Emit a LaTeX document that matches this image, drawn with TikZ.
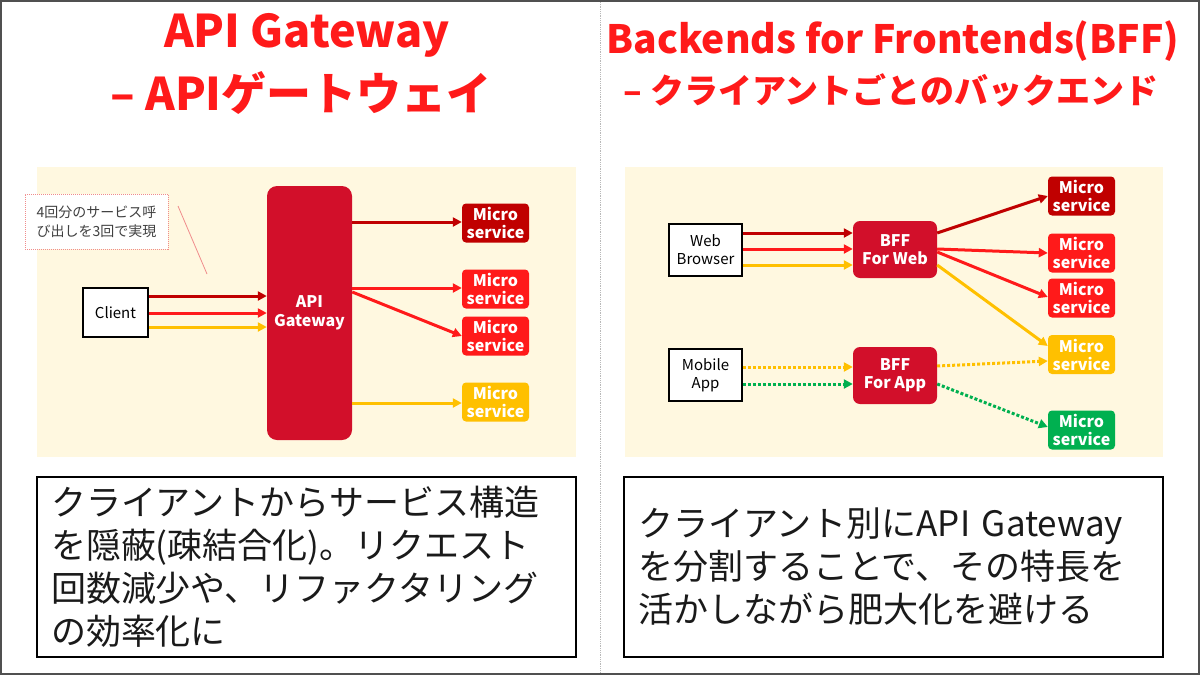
\documentclass[tikz,border=0pt]{standalone}
\usepackage{fontspec}
\setmainfont{Noto Sans CJK JP}
\usetikzlibrary{arrows.meta}
\definecolor{dred}{HTML}{C00000}
\definecolor{bred}{HTML}{FF1A1A}
\definecolor{gwred}{HTML}{D20F2A}
\definecolor{yel}{HTML}{FFC000}
\definecolor{grn}{HTML}{00B050}
\definecolor{beige}{HTML}{FFF8E0}
\definecolor{titlered}{HTML}{FF1A1A}
\definecolor{framec}{HTML}{505050}
\definecolor{txtc}{HTML}{1A1A1A}
\definecolor{callc}{HTML}{F08C8C}
\begin{document}
\begin{tikzpicture}[x=1pt,y=-1pt,
  titlea/.style={anchor=base, text=titlered, inner sep=0pt, font={\bfseries\fontsize{45}{50}\selectfont}},
  titleb/.style={anchor=base, text=titlered, inner sep=0pt, font={\bfseries\fontsize{45}{50}\selectfont}},
  titlec/.style={anchor=base, text=titlered, inner sep=0pt, font={\bfseries\fontsize{39}{44}\selectfont}},
  titled/.style={anchor=base, text=titlered, inner sep=0pt, font={\bfseries\fontsize{34}{40}\selectfont}},
  msbox/.style={rounded corners=4pt, minimum width=67pt, minimum height=39pt, inner sep=0pt, text=white, align=center, font={\bfseries\fontsize{16}{18}\selectfont}},
  bffbox/.style={fill=gwred, rounded corners=7pt, minimum width=84pt, minimum height=57pt, inner sep=0pt, text=white, align=center, font={\bfseries\fontsize{16}{18}\selectfont}},
  clientbox/.style={draw=black, line width=1.5pt, fill=white, inner sep=0pt, align=center, font={\fontsize{15}{18}\selectfont}},
  txtbox/.style={draw=black, line width=1.5pt, fill=white, minimum width=539pt, minimum height=180pt, text width=511pt, inner xsep=14pt, align=left, text=txtc, font={\fontsize{35}{43}\selectfont}},
  arr/.style={line width=3pt, -{Triangle[length=9pt,width=9pt]}},
  dotarr/.style={arr, dash pattern=on 3pt off 2pt}
]
\useasboundingbox (0,0) rectangle (1200,675);
\fill[white] (0,0) rectangle (1200,675);
\draw[framec, line width=2pt] (1,1) rectangle (1199,674);
\draw[gray!55, line width=0.8pt, densely dotted] (600,2) -- (600,673);

% titles
\node[titlea] (t1) at (307,47) {API Gateway};
\node[titleb] (t2) at (301,110) {– APIゲートウェイ};
\node[titlec] (t3) at (893,53) {Backends for Frontends(BFF)};
\node[titled] (t4) at (891,103) {– クライアントごとのバックエンド};

% backgrounds
\fill[beige] (37,167) rectangle (576,457);
\fill[beige] (625,167) rectangle (1163,457);

% ---------- left: API Gateway ----------
\node[draw=callc, densely dotted, line width=1pt, fill=white, minimum width=143pt, minimum height=55pt, inner sep=0pt, align=left, text=black!75, font={\fontsize{14}{19}\selectfont}] (call) at (96.5,221.5) {4回分のサービス呼\\び出しを3回で実現};
\coordinate (cl1) at (178,206);
\coordinate (cl2) at (207,274);
\draw[callc, line width=0.8pt] (cl1) -- (cl2);

\node[clientbox, minimum width=65pt, minimum height=49pt] (client) at (115.5,312.5) {Client};
\node[fill=gwred, rounded corners=10pt, minimum width=85pt, minimum height=254pt, inner sep=0pt, text=white, align=center, font={\bfseries\fontsize{16}{19}\selectfont}] (gw) at (309.5,313) {API\\Gateway};

\node[msbox, fill=dred] (lms1) at (495.5,223) {Micro\\service};
\node[msbox, fill=bred] (lms2) at (495.5,289) {Micro\\service};
\node[msbox, fill=bred] (lms3) at (495.5,336) {Micro\\service};
\node[msbox, fill=yel] (lms4) at (495.5,402) {Micro\\service};

\draw[arr, dred] (client.east |- 0,296) -- (gw.west |- 0,296);
\draw[arr, bred] (client.east |- 0,313) -- (gw.west |- 0,313);
\draw[arr, yel] (client.east |- 0,327) -- (gw.west |- 0,327);

\draw[arr, dred] (gw.east |- 0,222) -- (lms1.west |- 0,222);
\draw[arr, bred] (gw.east |- 0,288) -- (lms2.west |- 0,288);
\draw[arr, bred] (gw.east |- 0,292) -- (lms3.west |- 0,336);
\draw[arr, yel] (gw.east |- 0,403) -- (lms4.west |- 0,403);

% ---------- right: BFF ----------
\node[clientbox, minimum width=73pt, minimum height=52pt] (web) at (705.5,250) {Web\\Browser};
\node[clientbox, minimum width=73pt, minimum height=52pt] (mob) at (705.5,375) {Mobile\\App};
\node[bffbox] (bffw) at (895,249.5) {BFF\\For Web};
\node[bffbox] (bffa) at (895,375.5) {BFF\\For App};

\node[msbox, fill=dred] (rms1) at (1081.5,196) {Micro\\service};
\node[msbox, fill=bred] (rms2) at (1081.5,253) {Micro\\service};
\node[msbox, fill=bred] (rms3) at (1081.5,298) {Micro\\service};
\node[msbox, fill=yel] (rms4) at (1081.5,354.5) {Micro\\service};
\node[msbox, fill=grn] (rms5) at (1081.5,430) {Micro\\service};

\draw[arr, dred] (web.east |- 0,233) -- (bffw.west |- 0,233);
\draw[arr, bred] (web.east |- 0,249) -- (bffw.west |- 0,249);
\draw[arr, yel] (web.east |- 0,265) -- (bffw.west |- 0,265);

\draw[arr, dred] (bffw.east |- 0,233) -- (rms1.west |- 0,196);
\draw[arr, bred] (bffw.east |- 0,249) -- (rms2.west |- 0,253);
\draw[arr, bred] (bffw.east |- 0,252) -- (rms3.west |- 0,297);
\draw[arr, yel] (bffw.east |- 0,265) -- (rms4.west |- 0,346);

\draw[dotarr, yel] (mob.east |- 0,367) -- (bffa.west |- 0,367);
\draw[dotarr, grn] (mob.east |- 0,384) -- (bffa.west |- 0,384);
\draw[dotarr, yel] (bffa.east |- 0,366) -- (rms4.west |- 0,361);
\draw[dotarr, grn] (bffa.east |- 0,384) -- (rms5.west |- 0,427);

% ---------- bottom text boxes ----------
\node[txtbox] (lt) at (306.5,567) {クライアントからサービス構造\\を隠蔽(疎結合化)。リクエスト\\回数減少や、リファクタリング\\の効率化に};
\node[txtbox] (rt) at (893.5,567) {クライアント別にAPI Gateway\\を分割することで、その特長を\\活かしながら肥大化を避ける};
\end{tikzpicture}
\end{document}
